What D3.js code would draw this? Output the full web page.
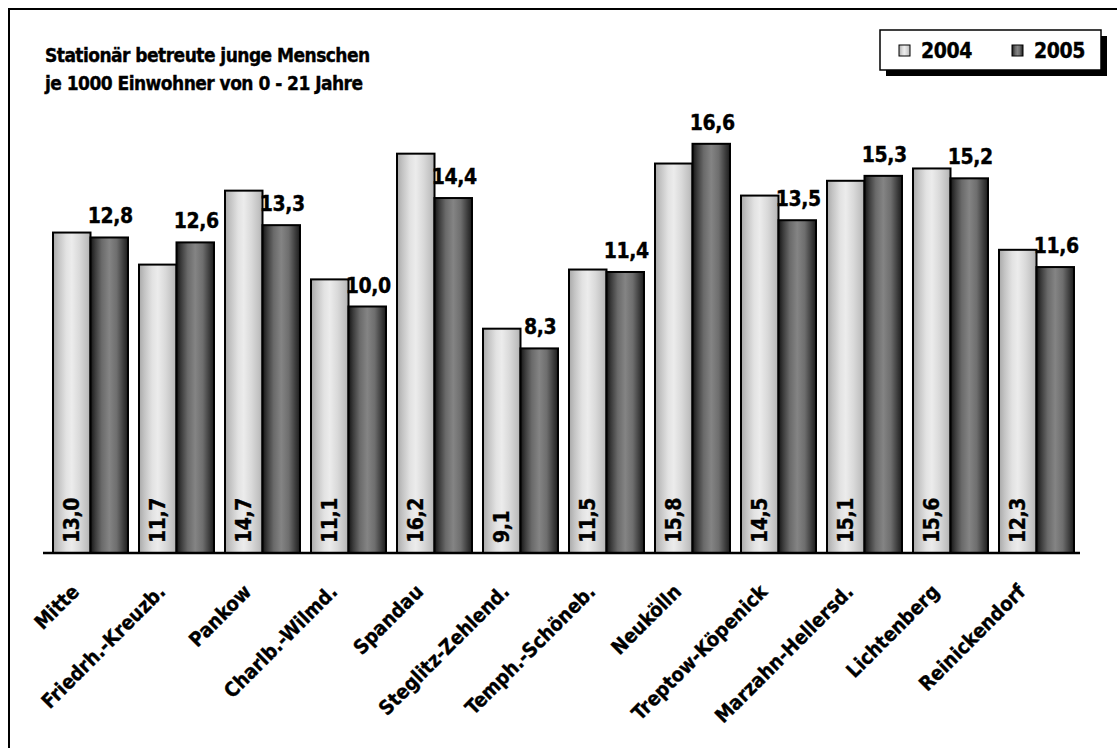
<!DOCTYPE html>
<html><head><meta charset="utf-8">
<script src="https://cdn.jsdelivr.net/npm/d3@7"></script>
<style>
body{margin:0;background:#fff;}
text{font-family:"DejaVu Sans Condensed","DejaVu Sans",sans-serif;font-stretch:condensed;font-weight:bold;fill:#000;stroke:#000;stroke-width:0.35px;}
</style></head>
<body>
<svg id="chart" width="1117" height="748"></svg>
<script>
const categories = ["Mitte","Friedrh.-Kreuzb.","Pankow","Charlb.-Wilmd.","Spandau","Steglitz-Zehlend.","Temph.-Schöneb.","Neukölln","Treptow-Köpenick","Marzahn-Hellersd.","Lichtenberg","Reinickendorf"];
const seriesNames = ["2004","2005"];
const values2004 = [13.0,11.7,14.7,11.1,16.2,9.1,11.5,15.8,14.5,15.1,15.6,12.3];
const values2005 = [12.8,12.6,13.3,10.0,14.4,8.3,11.4,16.6,13.5,15.3,15.2,11.6];
const titleLines = ["Stationär betreute junge Menschen","je 1000 Einwohner von 0 - 21 Jahre"];

const svg = d3.select("#chart");
const fmt = v => d3.format(".1f")(v).replace(".", ",");

// gradients
const defs = svg.append("defs");
function grad(id, stops){
  const g = defs.append("linearGradient").attr("id", id).attr("x1","0%").attr("x2","100%").attr("y1","0%").attr("y2","0%");
  stops.forEach(s => g.append("stop").attr("offset", s[0]).attr("stop-color", s[1]));
}
grad("g2004", [["0%","#a9a9a9"],["15%","#c4c4c4"],["35%","#e2e2e2"],["50%","#ececec"],["70%","#dadada"],["90%","#c2c2c2"],["100%","#b0b0b0"]]);
grad("g2005", [["0%","#141414"],["12%","#3a3a3a"],["30%","#6a6a6a"],["50%","#848484"],["70%","#6e6e6e"],["88%","#3c3c3c"],["100%","#1c1c1c"]]);

// frame
svg.append("rect").attr("x",9).attr("y",9).attr("width",1130).attr("height",760)
  .attr("fill","none").attr("stroke","#000").attr("stroke-width",2);

const y = d3.scaleLinear().domain([0,20]).range([553,60]);
const x0 = d3.scaleBand().domain(categories).range([47.5,1079.5]).paddingInner(0.128).paddingOuter(0.064);
const x1 = d3.scaleBand().domain(seriesNames).range([0,x0.bandwidth()]);
const fills = {"2004":"url(#g2004)","2005":"url(#g2005)"};

const data = categories.map((c,i)=>({cat:c, vals:[{s:"2004",v:values2004[i]},{s:"2005",v:values2005[i]}]}));

const groups = svg.append("g").selectAll("g").data(data).join("g")
  .attr("transform", d => `translate(${x0(d.cat)},0)`);

groups.selectAll("rect").data(d => d.vals).join("rect")
  .attr("x", d => x1(d.s))
  .attr("y", d => y(d.v))
  .attr("width", x1.bandwidth())
  .attr("height", d => y(0) - y(d.v))
  .attr("fill", d => fills[d.s])
  .attr("stroke","#000").attr("stroke-width",2);

// 2004 labels inside bars (rotated)
groups.append("text")
  .attr("transform", d => `translate(${x1("2004")+x1.bandwidth()/2+7.5},${y(0)-10}) rotate(-90)`)
  .attr("text-anchor","start")
  .style("font-size","21px").style("letter-spacing","-0.4px")
  .text(d => fmt(d.vals[0].v));

// 2005 labels above bars
groups.append("text")
  .attr("x", d => x1("2005")+x1.bandwidth()/2+1)
  .attr("y", d => y(d.vals[1].v) - 14)
  .attr("text-anchor","middle")
  .style("font-size","21px").style("letter-spacing","-0.4px")
  .text(d => fmt(d.vals[1].v));

// baseline axis
svg.append("line").attr("x1",43).attr("x2",1080).attr("y1",y(0)).attr("y2",y(0))
  .attr("stroke","#000").attr("stroke-width",2.5);

// category labels
svg.append("g").selectAll("text").data(categories).join("text")
  .attr("transform", c => `translate(${x0(c)+x0.bandwidth()/2-10},593) rotate(-45)`)
  .attr("text-anchor","end")
  .style("font-size","20px")
  .text(c => c);

// title
svg.append("g").selectAll("text").data(titleLines).join("text")
  .attr("x",45).attr("y",(d,i)=>62+i*28)
  .style("font-size","19px").style("letter-spacing","-0.55px")
  .text(d=>d);

// legend
const lg = svg.append("g");
lg.append("rect").attr("x",886).attr("y",36).attr("width",221).attr("height",40).attr("fill","#000");
lg.append("rect").attr("x",880).attr("y",30).attr("width",221).attr("height",40).attr("fill","#fff").attr("stroke","#000").attr("stroke-width",1.5);
const lx = [899,1012];
seriesNames.forEach((s,i)=>{
  lg.append("rect").attr("x",lx[i]).attr("y",45).attr("width",11).attr("height",11)
    .attr("fill",fills[s]).attr("stroke","#000").attr("stroke-width",1);
  lg.append("text").attr("x",lx[i]+22).attr("y",58).style("font-size","21px").style("letter-spacing","-0.4px").text(s);
});
</script>
</body></html>
